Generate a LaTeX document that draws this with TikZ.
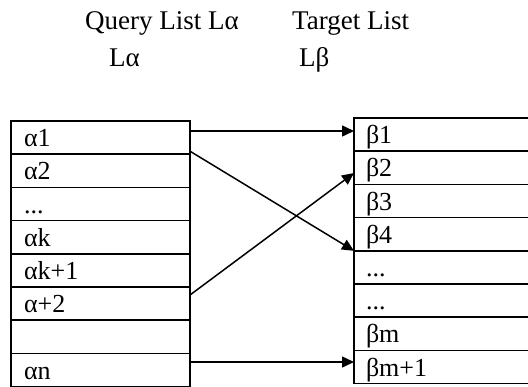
\documentclass[tikz,border=0pt]{standalone}
\usepackage{fontspec}
\setmainfont{Liberation Serif}
\usetikzlibrary{positioning,arrows.meta}

\begin{document}
\begin{tikzpicture}[
    x=1pt, y=-1pt,
    node distance=0pt,
    title/.style={anchor=base west, inner sep=0pt, font=\fontsize{27}{32}\selectfont},
    qcell/.style={rectangle, draw, line width=1.6pt, outer sep=0pt,
                  minimum width=179pt, minimum height=33.2pt,
                  text width=153pt, align=left, inner xsep=13pt, inner ysep=0pt,
                  text height=22pt, text depth=4pt, font=\fontsize{26}{30}\selectfont},
    tcell/.style={qcell, minimum width=176pt, text width=152pt, inner xsep=12pt},
    arrow/.style={-{Triangle[length=12pt,width=11pt]}, line width=1.5pt}
]
\useasboundingbox (0,0) rectangle (528,386);

% headings
\node (qtitle) [title] at (85,29) {Query List Lα};
\node (qname) [title] at (109,66) {Lα};
\node (ttitle) [title] at (292,29) {Target List};
\node (tname) [title] at (299,66) {Lβ};

% query list
\node (a1) [qcell] at (100.5,137.6) {α1};
\node (a2) [qcell, below=of a1] {α2};
\node (a3) [qcell, below=of a2] {...};
\node (a4) [qcell, below=of a3] {αk};
\node (a5) [qcell, below=of a4] {αk+1};
\node (a6) [qcell, below=of a5] {α+2};
\node (a7) [qcell, below=of a6] {};
\node (a8) [qcell, below=of a7] {αn};

% target list
\node (b1) [tcell] at (442,134.6) {β1};
\node (b2) [tcell, below=of b1] {β2};
\node (b3) [tcell, below=of b2] {β3};
\node (b4) [tcell, below=of b3] {β4};
\node (b5) [tcell, below=of b4] {...};
\node (b6) [tcell, below=of b5] {...};
\node (b7) [tcell, below=of b6] {βm};
\node (b8) [tcell, below=of b7] {βm+1};

\draw [arrow] ([yshift=6.6pt]a1.east) -- ([yshift=3.6pt]b1.west);
\draw [arrow] ([yshift=3pt]a1.south east) -- (b4.south west);
\draw [arrow] ([yshift=8.6pt]a6.east) -- ([yshift=-5.2pt]b2.west);
\draw [arrow] ([yshift=8pt]a8.east) -- ([yshift=5pt]b8.west);

\end{tikzpicture}
\end{document}
